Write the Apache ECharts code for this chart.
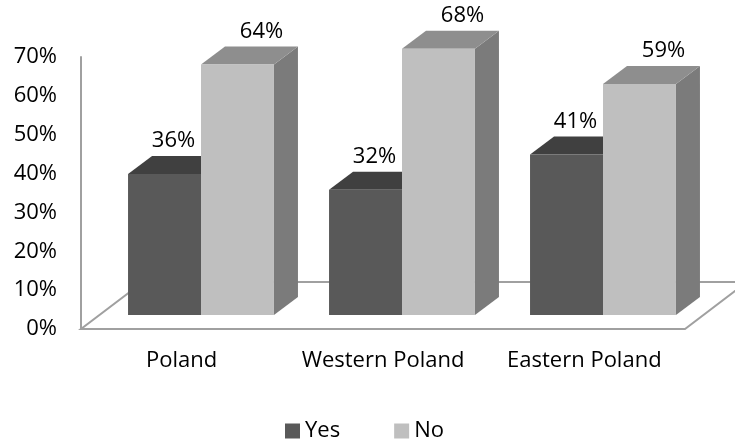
<!DOCTYPE html>
<html>
<head>
<meta charset="utf-8">
<script src="https://cdn.jsdelivr.net/npm/echarts@6/dist/echarts.min.js"></script>
<style>
  html, body { margin: 0; padding: 0; background: #fff; }
  #chart { width: 735px; height: 439px; }
</style>
</head>
<body>
<div id="chart"></div>
<script>
// Survey answers by region (percent)
const categories = ['Poland', 'Western Poland', 'Eastern Poland'];
const yesValues = [36, 32, 41];
const noValues = [64, 68, 59];
const seriesNames = ['Yes', 'No'];
const yTickMax = 70;
const yTickStep = 10;

const FONT = 'Open Sans';
const DEPTH_X = 24;      // bar depth offset, px
const DEPTH_Y = -18;
const BAR_FRAC = 0.363;  // bar width as a share of the category band
const FLOOR_DX = 62;     // floor depth offset
const FLOOR_DY = -47;

const faceColors = [
  { front: '#595959', top: '#404040', side: '#4a4a4a' },
  { front: '#bfbfbf', top: '#8e8e8e', side: '#7b7b7b' }
];

function barRenderer(k) {
  return function (params, api) {
    const cat = api.value(0);
    const val = api.value(1);
    const base = api.coord([cat, 0]);
    const top = api.coord([cat, val]);
    const band = api.size([1, 0])[0];
    const w = band * BAR_FRAC;
    const x0 = k === 0 ? base[0] - w : base[0];
    const x1 = x0 + w;
    const ty = top[1], by = base[1];
    const c = faceColors[k];
    const labelX = x0 + w / 2 + DEPTH_X / 2 + (k === 0 ? -3 : 12);
    return {
      type: 'group',
      children: [
        { type: 'polygon', shape: { points: [[x1, ty], [x1 + DEPTH_X, ty + DEPTH_Y], [x1 + DEPTH_X, by + DEPTH_Y], [x1, by]] },
          style: { fill: c.side } },
        { type: 'polygon', shape: { points: [[x0, ty], [x1, ty], [x1 + DEPTH_X, ty + DEPTH_Y], [x0 + DEPTH_X, ty + DEPTH_Y]] },
          style: { fill: c.top } },
        { type: 'rect', shape: { x: x0, y: ty, width: w, height: by - ty },
          style: { fill: c.front } },
        { type: 'text', x: labelX, y: ty + DEPTH_Y - 15,
          style: { text: val + '%', fill: '#000', font: '22px "' + FONT + '"', align: 'center', verticalAlign: 'middle' } }
      ]
    };
  };
}

function floorRenderer(params, api) {
  const cs = params.coordSys;
  const fl = [cs.x, cs.y + cs.height];
  const fr = [cs.x + cs.width, cs.y + cs.height];
  const br = [fr[0] + FLOOR_DX, fr[1] + FLOOR_DY];
  const bl = [fl[0] + FLOOR_DX, fl[1] + FLOOR_DY];
  return {
    type: 'polygon',
    shape: { points: [fl, fr, br, bl] },
    style: { fill: 'none', stroke: '#a0a0a0', lineWidth: 2 }
  };
}

const chart = echarts.init(document.getElementById('chart'), null, { renderer: 'canvas' });
chart.setOption({
  animation: false,
  backgroundColor: '#fff',
  textStyle: { fontFamily: FONT },
  grid: [
    { left: 100.5, right: 31.5, top: 41, bottom: 124 },
    { left: 81, right: 50, top: 57, bottom: 110 }
  ],
  xAxis: [
    { type: 'category', gridIndex: 0, data: categories, show: false },
    { type: 'category', gridIndex: 1, data: categories,
      axisLine: { show: false }, axisTick: { show: false },
      axisLabel: { interval: 0, hideOverlap: false, color: '#000', fontSize: 22, fontFamily: FONT, margin: 21 } }
  ],
  yAxis: [
    { type: 'value', gridIndex: 0, min: 0, max: yTickMax, show: false },
    { type: 'value', gridIndex: 1, min: 0, max: yTickMax, interval: yTickStep,
      axisLine: { show: true, lineStyle: { color: '#a0a0a0', width: 2 } },
      axisTick: { show: false }, splitLine: { show: false },
      axisLabel: { formatter: '{value}%', color: '#000', fontSize: 22, fontFamily: FONT, margin: 24 } }
  ],
  legend: {
    data: seriesNames,
    left: 280, top: 415,
    icon: 'rect', itemWidth: 15, itemHeight: 15, itemGap: 54,
    textStyle: { color: '#000', fontSize: 22, fontFamily: FONT }
  },
  series: [
    { type: 'custom', name: 'floor', xAxisIndex: 1, yAxisIndex: 1, silent: true, z: 1,
      data: [[0, 0]], renderItem: floorRenderer },
    { type: 'custom', name: seriesNames[0], xAxisIndex: 0, yAxisIndex: 0, z: 2,
      itemStyle: { color: faceColors[0].front },
      data: yesValues.map((v, i) => [i, v]), renderItem: barRenderer(0) },
    { type: 'custom', name: seriesNames[1], xAxisIndex: 0, yAxisIndex: 0, z: 3,
      itemStyle: { color: faceColors[1].front },
      data: noValues.map((v, i) => [i, v]), renderItem: barRenderer(1) }
  ]
});
</script>
</body>
</html>
